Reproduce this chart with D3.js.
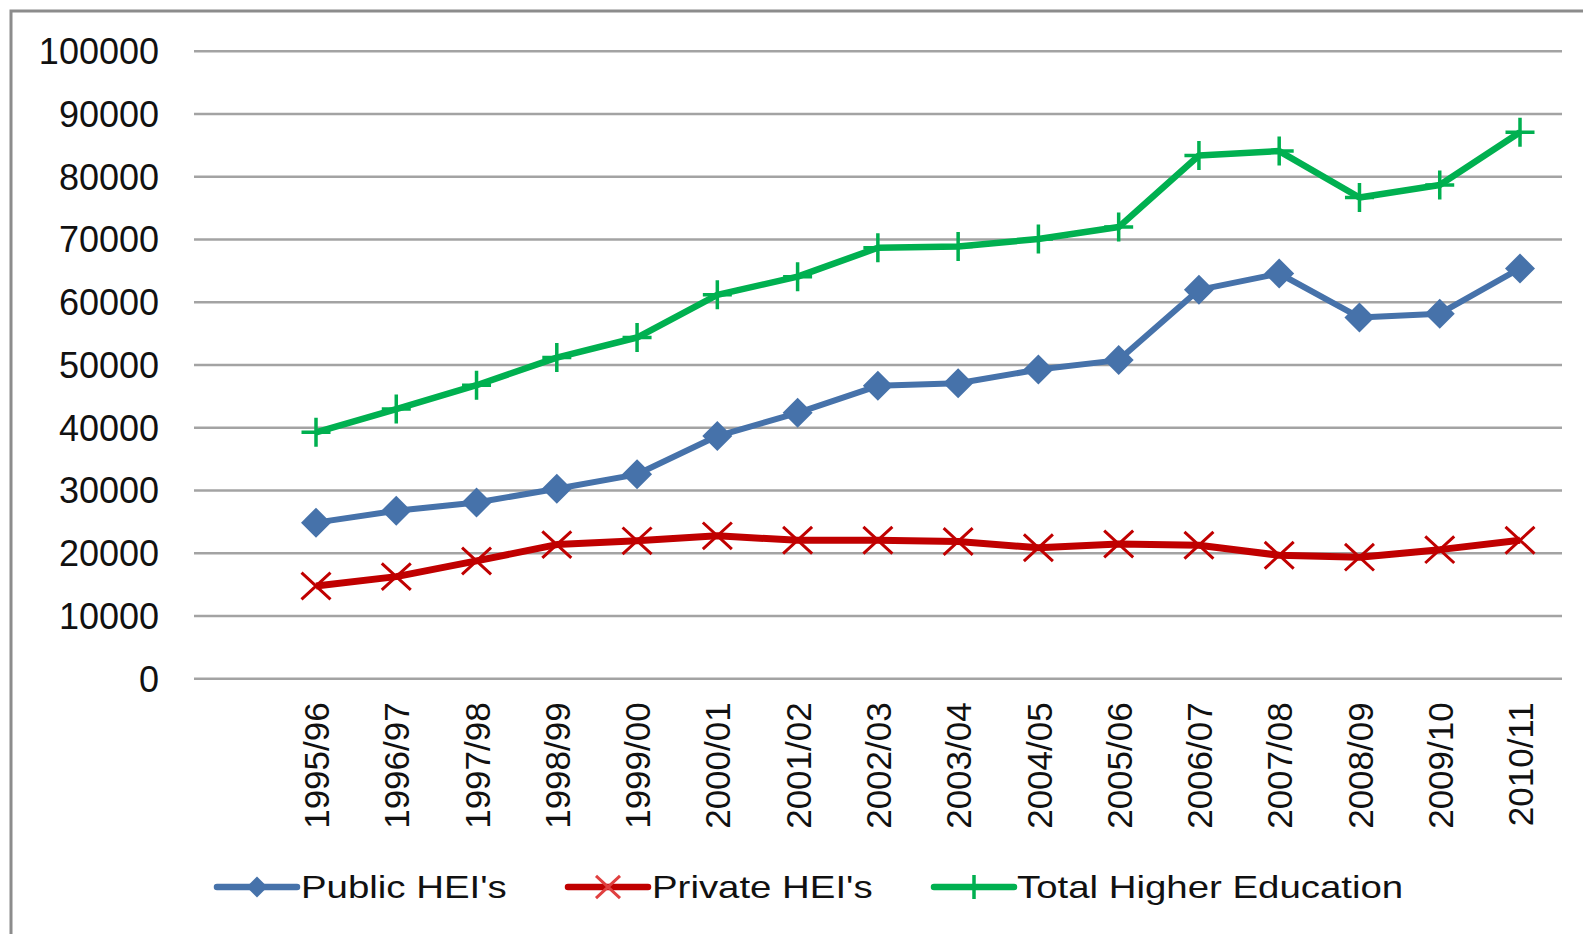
<!DOCTYPE html>
<html lang="en">
<head>
    <meta charset="UTF-8">
    <title>Higher education enrolment</title>
    <script src="https://d3js.org/d3.v7.min.js"></script>
    <style>
        body { margin: 0; background: #fff; }
        text { font-family: "Liberation Sans", Arial, Helvetica, sans-serif; fill: #111; }
        .tick line { stroke: #a3a3a3; stroke-width: 2.5px; }
    </style>
</head>
<body>
<svg width="1583" height="934"></svg>

<script>
    // values
    const years = ["1995/96", "1996/97", "1997/98", "1998/99", "1999/00", "2000/01", "2001/02", "2002/03",
                   "2003/04", "2004/05", "2005/06", "2006/07", "2007/08", "2008/09", "2009/10", "2010/11"];
    const publicHEI = [24800, 26700, 28000, 30200, 32500, 38600, 42300, 46600,
                       47000, 49200, 50700, 61900, 64500, 57500, 58100, 65300];
    const privateHEI = [14700, 16200, 18700, 21300, 21900, 22700, 22000, 22000,
                        21800, 20800, 21400, 21200, 19600, 19300, 20500, 22000];
    const totalHE = [39200, 42900, 46700, 51100, 54300, 61100, 64000, 68600,
                     68800, 70000, 71900, 83300, 84000, 76600, 78600, 87000];
    const yTicks = [0, 10000, 20000, 30000, 40000, 50000, 60000, 70000, 80000, 90000, 100000];
    const seriesNames = ["Public HEI's", "Private HEI's", "Total Higher Education"];

    let svg = d3.select("svg");

    // outer frame
    svg.append("rect")
        .attr("x", 11).attr("y", 11)
        .attr("width", 1620).attr("height", 1000)
        .attr("fill", "none")
        .attr("stroke", "#8c8c8c")
        .attr("stroke-width", 3);

    let gridLeft = 194, gridRight = 1562;

    let x = d3.scalePoint().domain(years).range([316, 1520]);
    let y = d3.scaleLinear().domain([0, 100000]).range([678.3, 50.7]);

    // y axis with gridlines
    let yAxis = svg.append("g")
        .attr("transform", "translate(" + gridLeft + ",0)")
        .call(d3.axisLeft(y).tickValues(yTicks)
            .tickSize(-(gridRight - gridLeft))
            .tickPadding(35)
            .tickFormat(d3.format("d")));
    yAxis.select(".domain").remove();
    yAxis.selectAll("text")
        .attr("font-size", "36px")
        .attr("dy", "0.36em")
        .attr("fill", "#111");

    // x axis, rotated labels
    let xAxis = svg.append("g")
        .attr("transform", "translate(0," + y(0) + ")")
        .call(d3.axisBottom(x).tickSize(0));
    xAxis.select(".domain").remove();
    xAxis.selectAll("text")
        .attr("font-size", "35px")
        .attr("fill", "#111")
        .attr("text-anchor", "end")
        .attr("transform", "rotate(-90)")
        .attr("x", -24)
        .attr("y", 0)
        .attr("dy", "0.36em");

    const colors = ["#4672aa", "#c00000", "#00b050"];
    const lineWidths = [6, 7, 6.5];

    function drawMarker(g, kind, color, s) {
        if (kind === 0) {
            g.append("path")
                .attr("d", "M0," + (-s) + "L" + s + ",0L0," + s + "L" + (-s) + ",0Z")
                .attr("fill", color);
        } else if (kind === 1) {
            g.append("path")
                .attr("d", "M" + (-s) + "," + (-s * 0.92) + "L" + s + "," + (s * 0.92) +
                           "M" + (-s) + "," + (s * 0.92) + "L" + s + "," + (-s * 0.92))
                .attr("stroke", color).attr("stroke-width", 3).attr("fill", "none");
        } else {
            g.append("path")
                .attr("d", "M0," + (-s) + "L0," + s + "M" + (-s) + ",0L" + s + ",0")
                .attr("stroke", color).attr("stroke-width", 3.5).attr("fill", "none");
        }
    }

    let allSeries = [publicHEI, privateHEI, totalHE];
    let line = d3.line()
        .x(function (d, i) { return x(years[i]); })
        .y(function (d) { return y(d); });

    allSeries.forEach(function (vals, k) {
        svg.append("path")
            .datum(vals)
            .attr("d", line)
            .attr("fill", "none")
            .attr("stroke", colors[k])
            .attr("stroke-width", lineWidths[k])
            .attr("stroke-linejoin", "round");
        vals.forEach(function (v, i) {
            let g = svg.append("g").attr("transform", "translate(" + x(years[i]) + "," + y(v) + ")");
            drawMarker(g, k, colors[k], k === 0 ? 15 : 14.5);
        });
    });

    // legend
    const legendX = [217, 568, 934];
    const legendTextX = [301, 652, 1017];
    let legendY = 887;
    seriesNames.forEach(function (name, k) {
        let g = svg.append("g");
        g.append("line")
            .attr("x1", legendX[k]).attr("x2", legendX[k] + 80)
            .attr("y1", legendY).attr("y2", legendY)
            .attr("stroke", colors[k])
            .attr("stroke-width", 6.5)
            .attr("stroke-linecap", "round");
        let m = g.append("g").attr("transform", "translate(" + (legendX[k] + 40) + "," + legendY + ")");
        drawMarker(m, k, k === 1 ? "#e04040" : colors[k], k === 0 ? 10.5 : 12);
        g.append("text")
            .attr("transform", "translate(" + legendTextX[k] + "," + (legendY + 11) + ") scale(1.2,1)")
            .attr("font-size", "32px")
            .text(name);
    });
</script>
</body>
</html>
